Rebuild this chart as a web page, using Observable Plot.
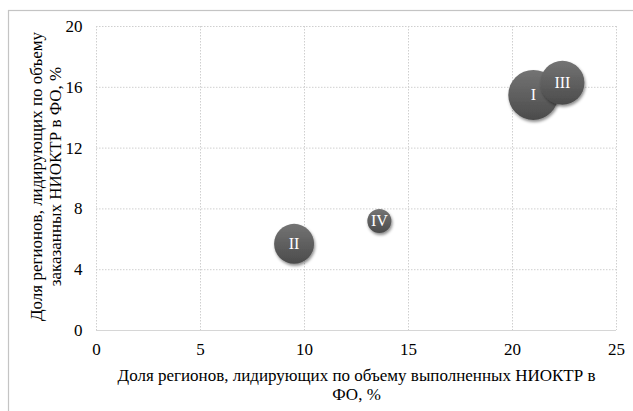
<!DOCTYPE html>
<html>
<head>
<meta charset="utf-8">
<script src="https://cdn.jsdelivr.net/npm/d3@7"></script>
<script src="https://cdn.jsdelivr.net/npm/@observablehq/plot@0.6"></script>
<style>
  html, body { margin: 0; padding: 0; background: #fff; }
  #chart { width: 633px; height: 411px; overflow: hidden; }
</style>
</head>
<body>
<div id="chart"></div>
<script>
const labels = ["I", "II", "III", "IV"];
const xValues = [21, 9.5, 22.4, 13.6];
const yValues = [15.5, 5.7, 16.3, 7.2];
const bubbleSizes = [25, 16, 19.4, 5.8];
const xTicks = [0, 5, 10, 15, 20, 25];
const yTicks = [0, 4, 8, 12, 16, 20];
const xTitle = "Доля регионов, лидирующих по объему выполненных НИОКТР в\nФО, %";
const yTitle = "Доля регионов, лидирующих по объему\nзаказанных НИОКТР в ФО, %";

const data = labels.map((l, i) => ({label: l, x: xValues[i], y: yValues[i], s: bubbleSizes[i]}));
const font = "Liberation Serif, Times New Roman, serif";

const svg = Plot.plot({
  width: 633,
  height: 411,
  marginLeft: 96,
  marginRight: 17,
  marginTop: 26,
  marginBottom: 81,
  style: {fontFamily: font, fontSize: "17px", color: "#000", background: "#fff"},
  x: {domain: [0, 25], ticks: xTicks, tickSize: 0, tickPadding: 12, label: null},
  y: {domain: [0, 20], ticks: yTicks, tickSize: 0, tickPadding: 14, label: null},
  r: {type: "sqrt", domain: [0, 25], range: [0, 25]},
  marks: [
    Plot.gridX(xTicks, {stroke: "#cfcfcf", strokeOpacity: 1, strokeDasharray: "1.5,1.5"}),
    Plot.gridY(yTicks.filter(d => d > 0), {stroke: "#cfcfcf", strokeOpacity: 1, strokeDasharray: "1.5,1.5"}),
    Plot.ruleY([0], {stroke: "#d6d6d6"}),
    Plot.dot(data, {x: "x", y: "y", r: "s", fill: "url(#bubbleGrad)", stroke: "none"}),
    Plot.text(data, {x: "x", y: "y", text: "label", fill: "#fff", fontSize: 16, fontFamily: font}),
    Plot.text([xTitle], {frameAnchor: "bottom", dy: 54, lineAnchor: "middle", textAnchor: "middle", fontSize: 17, lineHeight: 1.08, fill: "#000", fontFamily: font}),
    Plot.text([yTitle], {frameAnchor: "left", dx: -51, dy: -2, rotate: -90, lineAnchor: "middle", textAnchor: "middle", fontSize: 17, lineHeight: 1.12, fill: "#000", fontFamily: font})
  ]
});

const s = d3.select(svg);
const defs = s.insert("defs", ":first-child");
const g = defs.append("linearGradient").attr("id", "bubbleGrad").attr("x1", 0).attr("y1", 0).attr("x2", 0).attr("y2", 1);
g.append("stop").attr("offset", "0%").attr("stop-color", "#747474");
g.append("stop").attr("offset", "100%").attr("stop-color", "#4b4b4b");
const f = defs.append("filter").attr("id", "bubbleShadow").attr("x", "-30%").attr("y", "-30%").attr("width", "160%").attr("height", "160%");
f.append("feDropShadow").attr("dx", 1).attr("dy", 2).attr("stdDeviation", 1.6).attr("flood-color", "#000").attr("flood-opacity", 0.45);
s.selectAll("circle").attr("filter", "url(#bubbleShadow)");
s.insert("rect", "defs + *").attr("x", 8.5).attr("y", 10.5).attr("width", 700).attr("height", 500)
  .attr("fill", "none").attr("stroke", "#c4c4c4").attr("stroke-width", 1.2);

document.getElementById("chart").appendChild(svg);
</script>
</body>
</html>
